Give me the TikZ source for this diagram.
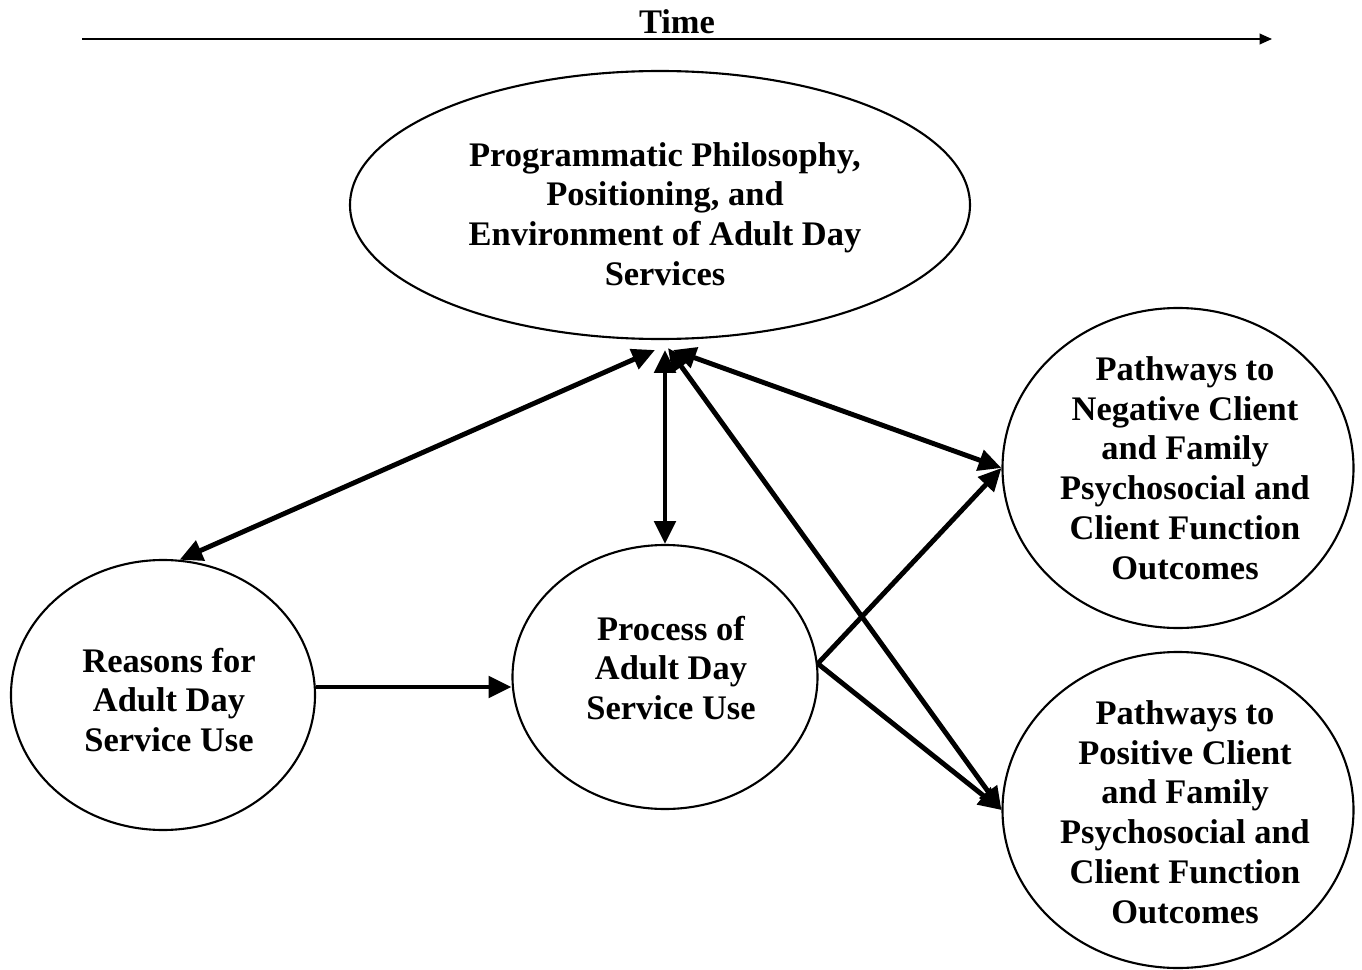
\documentclass[tikz,border=0pt]{standalone}
\usepackage{fontspec}
\setmainfont{Liberation Serif}
\usepackage{tikz}
\usetikzlibrary{positioning,shapes.geometric,arrows.meta}

\begin{document}
\begin{tikzpicture}[%
    >={Triangle[length=6.5pt,width=6pt]},
    font=\fontsize{9.8}{11.3}\selectfont\bfseries,
    oval/.style={%
      ellipse,
      inner sep=0pt,
      line width=0.6pt,
      draw
    },
    txt/.style={%
      align=center,
      inner sep=0pt
    },
    link/.style={%
      line width=1.4pt
    }
  ]
    \useasboundingbox (0,0) rectangle (13.62,9.69);

    % time line
    \coordinate (t0) at (0.82,9.30);
    \coordinate (t1) at (12.72,9.30);
    \draw[line width=0.5pt,-{Triangle[length=3.5pt,width=3pt]}] (t0) -- (t1);
    \node[txt] (time) at (6.77,9.47) {Time};

    \node[oval, minimum width=6.20cm, minimum height=2.68cm] (top) at (6.60,7.64) {};
    \node[oval, minimum width=3.04cm, minimum height=2.70cm] (reasons) at (1.63,2.74) {};
    \node[oval, minimum width=3.05cm, minimum height=2.64cm] (process) at (6.65,2.92) {};
    \node[oval, minimum width=3.51cm, minimum height=3.20cm] (negative) at (11.78,5.01) {};
    \node[oval, minimum width=3.51cm, minimum height=3.16cm] (positive) at (11.78,1.59) {};

    \node[txt] (toptext) at ([shift={(0.05,-0.09)}]top) {Programmatic Philosophy,\\Positioning, and\\Environment of Adult Day\\Services};
    \node[txt] (reasonstext) at ([shift={(0.06,-0.05)}]reasons) {Reasons for\\Adult Day\\Service Use};
    \node[txt] (processtext) at ([shift={(0.06,0.09)}]process) {Process of\\Adult Day\\Service Use};
    \node[txt] (negativetext) at ([xshift=0.07cm]negative) {Pathways to\\Negative Client\\and Family\\Psychosocial and\\Client Function\\Outcomes};
    \node[txt] (positivetext) at ([shift={(0.07,-0.02)}]positive) {Pathways to\\Positive Client\\and Family\\Psychosocial and\\Client Function\\Outcomes};

    % meeting points under the top oval
    \coordinate (hubA) at (6.55,6.19);
    \coordinate (hubB) at (6.65,6.19);
    \coordinate (hubC) at (6.68,6.21);
    \coordinate (hubD) at (6.73,6.19);

    \path[link] (hubA) edge [<->] (reasons.83)
          (hubB) edge [<->] (process.north)
          (hubC) edge [<->] (positive.west)
          (hubD) edge [<->] (negative.west)
          (reasons.3) edge [->] (reasons.3 -| process.west)
          (process.5) edge [->] (negative.west)
          (process.5) edge [->] (positive.west)
          ;
  \end{tikzpicture}
\end{document}
